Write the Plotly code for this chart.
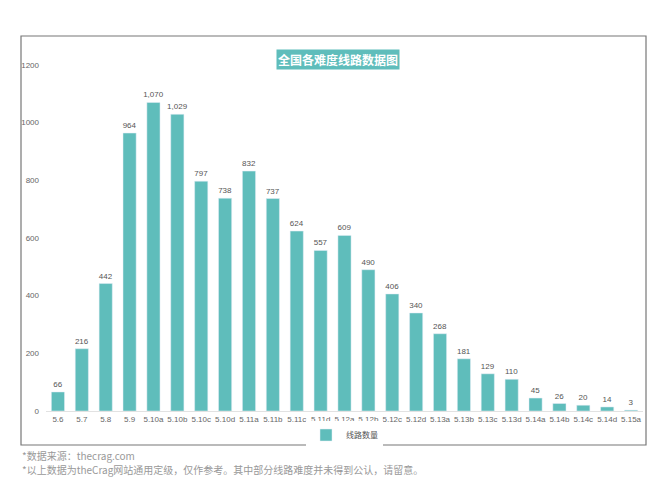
import plotly.graph_objects as go

grades = ["5.6", "5.7", "5.8", "5.9", "5.10a", "5.10b", "5.10c", "5.10d", "5.11a", "5.11b",
          "5.11c", "5.11d", "5.12a", "5.12b", "5.12c", "5.12d", "5.13a", "5.13b", "5.13c",
          "5.13d", "5.14a", "5.14b", "5.14c", "5.14d", "5.15a"]
counts = [66, 216, 442, 964, 1070, 1029, 797, 738, 832, 737, 624, 557, 609, 490, 406, 340,
          268, 181, 129, 110, 45, 26, 20, 14, 3]

teal = "#5fbdbb"
fnt = "Noto Sans CJK SC"
num_font = "Liberation Sans"

fig = go.Figure(go.Bar(
    x=grades, y=counts, name="线路数量", marker_color=teal, width=0.55,
    text=[f"{v:,}" for v in counts], textposition="outside", textangle=0,
    constraintext="none",
    textfont=dict(size=8, color="#555", family=num_font), cliponaxis=False,
))

W, H = 660, 503
l, r, t, b = 38, 25, 57, 100
pw, ph = W - l - r, H - t - b

def px(x):
    return (x - l) / pw

def py(y):
    return (H - b - y) / ph

fig.update_layout(
    width=W, height=H, margin=dict(l=l, r=r, t=t, b=b, autoexpand=False),
    paper_bgcolor="white", plot_bgcolor="white",
    font=dict(family=num_font, size=8, color="#666"),
    bargap=0.45,
    xaxis=dict(showgrid=False, showline=True, linecolor="#e2e2e2", ticks="",
               tickfont=dict(size=8, color="#666", family=num_font), automargin=False),
    yaxis=dict(range=[0, 1200], dtick=200, showgrid=False, zeroline=False,
               tickfont=dict(size=8, color="#666", family=num_font), ticklabelstandoff=6,
               automargin=False),
    showlegend=True,
    legend=dict(orientation="h", x=0.5, xanchor="center", yref="container",
                y=(H - 427) / H, yanchor="middle", itemwidth=30,
                font=dict(size=8, color="#555", family=fnt)),
    shapes=[dict(type="rect", xref="paper", yref="paper",
                 x0=px(13), x1=px(638), y0=py(437), y1=py(28),
                 line=dict(color="#777", width=1.2))],
    annotations=[
        dict(text="<b>全国各难度线路数据图</b>", xref="paper", yref="paper",
             x=px(330), y=py(41), showarrow=False, bgcolor=teal,
             font=dict(size=12, color="white", family=fnt), borderpad=1),
        dict(text="*数据来源：thecrag.com", xref="paper", yref="paper",
             x=px(12), y=py(457), xanchor="left", showarrow=False,
             font=dict(size=10, color="#999", family=fnt)),
        dict(text="*以上数据为theCrag网站通用定级，仅作参考。其中部分线路难度并未得到公认，请留意。",
             xref="paper", yref="paper", x=px(12), y=py(471), xanchor="left",
             showarrow=False, font=dict(size=10, color="#999", family=fnt)),
    ],
)

fig.write_html("out.html")
